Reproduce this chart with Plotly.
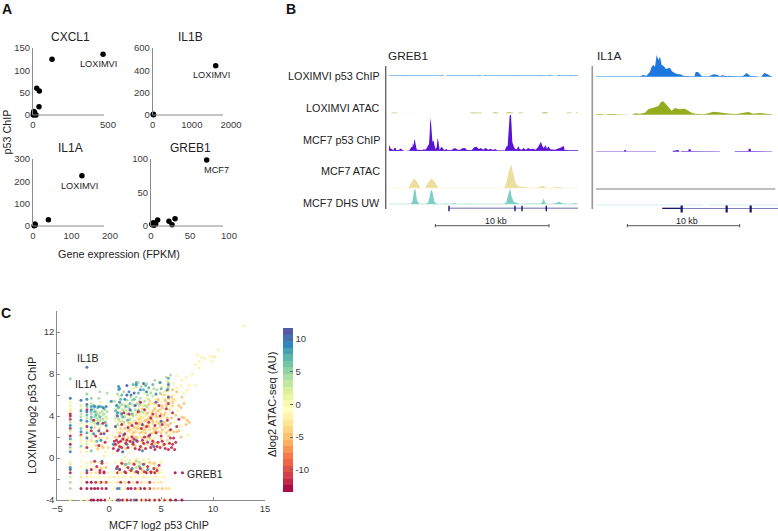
import plotly.graph_objects as go
from plotly.colors import sample_colorscale

W, H = 778, 531
def px(v): return v / W
def py(v): return 1 - v / H

# ---------- Panel A data ----------
cxcl1_x = [467, 127, 25, 42, 40, 5, 8, 12, 3, 20, 2, 10]
cxcl1_y = [136, 125, 60, 54, 18.6, 8, 3, 1, 5, 0, 0, 6]
il1b_x = [1609, 15, 20]
il1b_y = [441, 6, 3]
il1a_x = [127, 40, 5, 4, 6, 3]
il1a_y = [225, 28, 9, 3, 5, 1]
greb1_x = [71.4, 30.8, 23, 27, 8.5, 3, 2, 5, 4, 6, 1]
greb1_y = [98.5, 11, 7, 2, 9, 5, 2, 4, 1, 3, 3]

# ---------- Panel B data: (position, signal); None marks a gap ----------
G_LOX_CHIP = [(0,0),(40,0),(43,3),(46,0),(158,0),(161,3),(164,0),(166,None),(172,0),(268,0),(270,3),(272,None),(284,0),(288,3),(291,0),(388,0),(391,3),(394,0),(452,0),(456,3),(460,0),(477,0),(481,3),(483,None),(503,0),(508,3),(512,0),(540,0),(545,3),(550,0),(568,0)]
G_LOX_ATAC = [(8,0),(25,1),(None,None),(243,0),(250,2),(262,1),(278,0),(None,None),(311,0),(320,3),(328,0),(None,None),(351,0),(360,4),(373,0),(None,None),(388,0),(395,1),(403,0),(None,None),(458,0),(468,4),(478,0),(None,None),(533,0),(540,1),(548,0),(None,None),(561,0),(568,1)]
G_MCF_CHIP = [(0,16),(3,12),(5,5),(8,6),(10,3),(14,3),(16,8),(20,8),(22,2),(30,2),(33,6),(37,6),(40,1),(44,0),(None,None),(61,1),(64,8),(66,7),(68,12),(70,10),(72,22),(74,15),(76,35),(78,30),(80,14),(82,8),(84,3),(90,2),(100,2),(104,4),(108,3),(112,6),(116,14),(120,20),(122,50),(124,98),(126,85),(128,50),(130,30),(132,25),(134,32),(136,18),(138,8),(140,4),(143,10),(146,38),(148,30),(150,8),(152,2),(156,10),(160,10),(163,4),(168,2),(172,6),(176,1),(186,0),(192,6),(200,7),(206,3),(214,3),(220,7),(228,8),(234,2),(248,1),(256,10),(262,12),(270,5),(276,8),(282,3),(290,8),(298,3),(304,6),(312,2),(318,5),(324,2),(None,None),(348,2),(352,12),(356,14),(358,40),(360,90),(362,104),(364,108),(366,108),(368,70),(370,25),(374,14),(378,6),(384,4),(388,14),(392,5),(398,3),(404,8),(410,3),(418,8),(424,4),(432,6),(440,3),(448,12),(452,18),(456,27),(460,14),(464,8),(470,16),(474,5),(478,13),(484,4),(498,3),(510,6),(518,10),(524,15),(527,2),(540,0),(568,0)]
G_MCF_ATAC = [(0,0),(58,0),(64,12),(76,30),(84,20),(95,0),(108,0),(118,18),(128,30),(138,18),(148,0),(345,0),(352,15),(358,45),(366,72),(372,50),(380,15),(388,6),(400,4),(420,2),(440,0),(452,4),(461,8),(472,2),(490,1),(503,5),(518,2),(530,0),(568,0)]
G_MCF_DHS = [(0,0),(64,0),(70,8),(76,44),(79,46),(84,12),(90,2),(110,0),(118,6),(126,43),(130,40),(136,8),(144,1),(165,0),(170,3),(176,0),(200,3),(206,0),(240,2),(248,1),(258,0),(345,1),(352,6),(358,30),(363,48),(368,22),(375,7),(385,4),(392,0),(410,2),(440,3),(455,2),(460,6),(464,18),(468,6),(472,0),(495,2),(505,7),(511,8),(520,3),(535,1),(552,2),(558,4),(564,1),(568,0)]

I_LOX_CHIP = [(0,0),(24,0),(30,1),(36,0),(55,0),(62,2),(70,0),(132,0),(140,6),(152,4),(162,16),(167,31),(172,36),(177,31),(182,66),(187,51),(192,61),(197,36),(202,34),(210,24),(217,26),(222,28),(227,18),(237,11),(247,8),(252,8),(262,4),(272,2),(285,1),(295,1),(299,15),(306,15),(314,5),(320,0),(340,1),(346,6),(355,8),(365,6),(372,1),(377,5),(387,4),(392,2),(398,4),(407,2),(430,0),(442,4),(452,12),(462,4),(484,1),(None,None),(495,0),(500,6),(505,12),(515,8),(526,1),(528,0)]
I_LOX_ATAC = [(0,0),(8,2),(20,1),(None,None),(32,0),(45,2),(62,1),(None,None),(110,0),(117,4),(132,3),(147,6),(157,16),(167,18),(177,22),(187,26),(195,38),(202,40),(210,30),(220,20),(227,12),(237,20),(247,18),(252,16),(267,18),(277,12),(287,6),(297,3),(312,1),(322,1),(337,4),(352,9),(367,7),(382,5),(402,3),(422,2),(442,6),(457,8),(472,3),(492,5),(512,3),(528,0)]
I_MCF_CHIP = [(0,0),(84,0),(85,6),(90,6),(91,0),(100,0),(101,2),(128,2),(129,0),(180,0),(None,None),(230,0),(232,4),(248,6),(250,0),(None,None),(255,0),(256,2),(277,2),(278,8),(284,8),(285,2),(372,0),(None,None),(416,0),(418,2),(446,2),(457,3),(458,10),(464,10),(465,3),(502,2),(503,0),(528,0)]
I_MCF_ATAC = [(0,0),(538,0)]
I_MCF_DHS = [(0,0),(320,0),(None,None),(340,0),(546,0)]

# gene models: line extents and exon positions on the same coordinates
greb1_gene = [180, 568]
greb1_exons = [180, 378, 399, 472]
il1a_gene = [199, 546]
il1a_utr = [199, 257]
il1a_exons = [257, 392, 464]
scale_10kb_greb1 = [139, 480]
scale_10kb_il1a = [94, 431]

track_names = ["LOXIMVI p53 ChIP", "LOXIMVI ATAC", "MCF7 p53 ChIP", "MCF7 ATAC", "MCF7 DHS UW"]

# ---------- Panel C data ----------
col_a = [(5.7,10),(5.3,0),(5.0,1),(4.7,-2),(4.5,-3),(4.2,-12),(4.0,-12),(3.7,-11),(3.4,3),(3.1,9),(2.8,-12),(2.6,2),(2.3,-1),(2.1,-12),(1.8,8),(1.6,0),(1.3,-12),(1.0,5),(0.8,1),(0.6,9),(-0.3,0),(-0.6,-3),(-0.9,9),(-1.1,10),(-1.4,-12),(-1.8,2),(-2.3,4),(-2.9,4),(-4,1),(7.55,5)]
col_b = [(5.5,10),(5.0,2),(4.7,1),(4.5,8),(4.2,3),(3.9,4),(3.6,9),(3.3,1),(3.1,-1),(2.8,6),(2.5,9),(2.2,-11),(2.0,1),(1.7,-2),(1.4,0),(1.1,6),(0.9,-1),(0.6,-2),(-0.3,-1),(-0.8,0),(-1.4,-2),(-1.8,-3),(-2.3,-1),(-2.9,-13),(-4,-1)]
col_c = [(8.65,10),(6.1,5),(5.6,9),(5.1,11),(4.9,6),(4.6,-12),(4.4,10),(4.1,7),(3.8,3),(3.5,9),(3.2,-1),(3.0,-12),(2.7,1),(2.4,8),(2.1,-2),(1.9,10),(1.6,-3),(1.3,2),(1.0,-12),(0.6,1),(-0.5,-2),(-0.9,0),(-1.2,10),(-1.4,-12),(-1.8,-3),(-2.3,-13),(-2.9,-13),(-4,-2)]
col_d = [(5.7,5),(5.2,3),(4.9,8),(4.6,10),(4.4,6),(4.2,4),(3.9,7),(3.7,5),(3.4,3),(3.2,-1),(2.9,9),(2.6,-12),(2.3,0),(2.0,1),(1.7,-3),(1.4,-1),(1.1,-1),(0.7,6),(-0.4,-4),(-0.8,-1),(-1.1,-12),(-1.4,-3),(-1.8,0),(-2.3,-13),(-2.9,-13),(-4,-13)]
col_xs = [-3.75, -2.72, -2.15, -1.73]

row_m4 = [(-1.5,-13),(-1.1,-13),(-0.8,-13),(-0.4,-13),(0.8,-13),(1.0,-12),(1.3,-13),(1.7,-13),(2.1,-12),(2.6,-13),(3.1,-13),(3.5,-12),(3.9,-13),(4.4,-13),(4.8,-13),(5.3,-12),(5.9,-13),(6.4,-13),(7.0,-13),(-0.2,-2),(0.1,-1),(0.5,-2),(1.5,-3),(2.3,-2),(2.9,-1),(3.3,-3),(4.1,-2),(4.6,-1),(5.1,-2),(5.6,-3),(0.9,10),(2.4,10)]
row_m29 = [(-1.4,-13),(-1.1,-13),(-0.7,-12),(-0.3,-13),(0.8,10),(1.0,9),(1.2,-1),(1.5,-2),(1.8,-13),(2.1,-13),(2.5,-12),(3.0,-13),(3.4,-13),(3.9,-12),(4.3,-5),(4.7,-4),(5.1,-5),(5.5,-4),(5.8,-3),(0.5,-2),(2.8,-3),(3.7,-2)]
row_m23 = [(-1.3,-12),(-0.8,-13),(-0.3,-12),(-1.0,-3),(-0.5,-4),(0.1,-2),(0.8,-3),(1.1,-12),(1.5,-4),(1.9,-13),(2.3,-3),(2.7,-12),(3.1,-4),(3.5,-2),(3.9,-12),(4.3,-3),(4.7,-2),(5.0,-3),(0.5,-1)]
row_m18 = [(-1.3,-1),(-0.9,-2),(-0.5,-1),(0,-2),(0.5,-3),(0.9,0),(1.3,-2),(1.7,-1),(2.1,-3),(2.5,-2),(2.9,-1),(3.3,-3),(3.7,-2),(4.1,-1),(4.5,-2),(4.9,-1),(5.2,-2)]
row_m14 = [(-1.3,-3),(-0.9,-12),(-0.5,-13),(-0.1,-2),(0.4,-1),(0.8,-12),(1.2,-3),(1.6,-12),(2.0,-2),(2.4,-4),(2.8,-12),(3.2,-3),(3.6,-13),(4.0,-12),(4.4,-13),(4.8,-2),(5.1,-1),(1.0,-2),(2.2,-1),(3.0,-1),(3.8,-2),(4.6,-3),(6.35,-13),(7.05,-13)]
row_ys = [-4, -2.9, -2.3, -1.8, -1.4]

cream_pts = [(13.0,12.6),(10.5,10.3),(10.2,9.7),(10.0,9.6),(9.9,9.2),(9.7,9.7),(8.9,9.6),(8.5,9.8),(8.7,9.2),(8.3,8.9),(9.2,9.5),(8.6,8.6),(8.0,8.0),(7.4,7.7),(7.0,7.4),(6.5,7.8),(6.9,6.9),(7.5,6.5),(7.7,6.9),(6.5,6.7),(6.2,7.1),(7.2,6.2),(8.3,6.9),(5.8,6.4),(5.6,6.0),(6.2,6.0),(5.9,5.5),(5.2,5.7),(5.0,5.3),(4.6,5.0),(4.3,4.8),(4.0,4.3),(3.8,4.7),(3.5,4.0),(3.2,3.7),(2.9,3.4),(2.6,3.0),(2.3,2.7),(2.0,2.4),(1.7,2.1),(4.8,4.4),(4.4,3.9),(3.9,3.5),(3.6,3.2),(3.2,2.9),(2.8,2.5),(2.4,2.2),(5.3,4.6),(5.6,4.9),(4.9,3.7),(4.5,3.3),(4.1,2.9),(3.7,2.6),(3.3,2.3),(2.9,2.1),(5.8,4.2),(5.2,3.9),(0.7,2.7),(1.0,3.1),(1.3,2.6),(1.6,3.2),(2.0,3.0),(2.3,3.5),(2.7,3.8),(3.0,4.2),(3.4,4.5),(1.2,3.8),(1.5,4.1),(1.9,3.8),(0.6,3.5),(0.8,1.9),(1.4,1.2),(2.2,1.0),(3.1,1.5),(3.8,1.2),(4.3,1.9),(4.8,1.3),(5.5,1.4),(5.9,2.3),(5.2,2.6),(6.3,3.4),(6.6,4.5),(6.0,4.9),(6.4,5.5),(4.6,2.2),(0.3,2.2),(-0.3,2.9),(-0.7,1.9),(-1.2,2.5),(-1.5,1.6),(-0.9,3.4),(-0.4,0.6),(-1.1,0.7),(0.3,0.5),(1.2,0.5),(2.0,0.5),(1.5,-0.3),(2.0,-0.4),(2.5,-0.2),(3.0,-0.5),(3.5,-0.4),(4.0,-0.6),(4.5,-0.4),(1.1,-0.3),(1.6,-0.8),(2.2,-0.9),(2.8,-0.7),(3.3,-0.9),(3.9,-1.0),(4.4,-0.8),(4.9,-1.1),(-1.0,-0.4),(-0.6,-0.9),(-0.2,-0.5),(0.6,-0.4),(0.9,-1.3),(2.4,-1.2),(3.6,-1.2),(5.0,-0.4),(-1.3,-1.0),(7.6,2.2),(6.0,2.7),(6.8,3.1),(3.6,5.7),(4.4,5.6),(5.3,6.3)]
cream_dense = [(0.9,2.4),(1.1,2.8),(1.4,2.0),(1.8,2.6),(2.1,2.1),(2.5,2.5),(2.9,2.8),(3.2,2.5),(3.5,2.9),(3.9,2.7),(4.2,2.4),(4.6,2.8),(5.0,2.4),(5.4,2.9),(5.7,2.6),(1.2,3.5),(1.7,3.6),(2.1,3.3),(2.5,3.5),(2.8,3.1),(3.1,3.4),(3.4,3.5),(3.8,3.2),(4.2,3.3),(4.6,3.5),(5.1,3.5),(5.5,3.2),(2.6,4.1),(3.1,3.9),(3.6,4.2),(4.1,4.0),(4.5,4.3),(4.9,4.6),(5.4,4.3),(5.8,4.6),(6.1,5.0),(3.3,5.0),(3.9,5.4),(4.3,5.2),(4.7,5.4),(5.1,5.0),(5.5,5.3),(6.2,5.6),(5.3,6.0),(0.8,1.3),(1.5,1.6),(2.1,1.4),(2.7,1.9),(3.1,1.0),(3.6,1.7),(4.1,1.7),(4.5,1.4),(5.0,1.8),(5.6,1.7),(-0.5,2.4),(-1.0,1.9),(-1.4,2.9),(-0.2,1.9),(-0.9,2.8),(-0.3,3.3),(-1.3,1.2),(-0.7,1.2),(-0.1,1.0)]
orange_pts = [(5.0,6.1),(5.4,5.5),(5.7,5.7),(6.1,5.3),(5.5,5.0),(5.1,4.8),(4.7,4.5),(4.2,4.5),(3.9,3.9),(3.5,3.6),(3.1,3.2),(2.7,2.8),(2.3,2.4),(4.6,3.9),(4.2,3.5),(3.8,3.0),(3.4,2.7),(3.0,2.4),(2.6,2.0),(5.0,4.2),(5.3,3.4),(4.9,3.0),(4.4,2.6),(4.0,2.3),(3.6,2.0),(5.7,3.1),(5.5,2.4),(6.2,2.5),(6.9,2.0),(7.2,3.8),(7.5,3.6),(7.7,3.4),(7.0,3.9),(7.4,3.2),(6.7,5.0),(7.0,5.8),(6.5,6.3),(6.1,6.5),(5.7,6.8),(2.2,1.7),(1.8,1.9),(1.1,2.4),(1.5,2.8),(1.9,3.3),(3.2,1.9),(4.3,1.4),(3.4,1.3),(2.5,1.2),(1.6,0.9),(5.2,1.2),(0.8,-0.9),(1.4,-0.6),(1.9,-1.1),(2.3,-0.5),(2.9,-0.4),(3.4,-0.6),(3.9,-0.4),(4.3,-0.5),(4.6,-1.0),(4.2,-1.3),(3.2,-1.2),(2.6,-0.9),(-0.3,-0.9),(-0.8,-1.0),(-1.1,0.9),(-0.6,1.0),(0.5,1.2),(4.7,5.6),(3.8,5.1),(3.2,4.7)]
orange_dense = [(2.4,2.9),(2.8,3.3),(3.3,3.1),(3.7,3.7),(4.1,3.7),(4.5,4.1),(4.8,3.3),(5.3,4.1),(5.6,3.8),(6.0,3.8),(4.3,2.8),(4.7,2.5),(3.5,2.4),(3.9,1.9),(5.1,2.7),(5.7,2.1),(6.5,2.5),(6.0,5.8),(5.5,6.4),(4.4,4.7),(3.7,4.3),(2.9,3.7),(2.0,2.7),(1.4,1.8),(0.6,2.0),(6.4,4.1),(6.9,4.8),(7.2,5.2),(5.9,3.3),(6.7,2.6)]
lime_pts = [(-0.8,5.3),(-0.4,4.9),(0.1,5.3),(-1.3,5.0),(0.9,5.9),(2.2,5.1),(2.9,4.7),(3.3,5.1),(3.7,4.8),(4.1,5.2),(4.5,6.0),(5.1,6.8),(5.6,7.3),(4.8,7.2),(4.0,6.3),(1.4,5.2),(1.7,4.5),(2.4,4.3),(2.9,4.0),(3.3,3.9),(1.0,4.4),(0.7,4.7),(-0.2,3.7),(-0.7,3.9),(-1.2,3.4),(0.6,2.9),(1.3,3.3),(2.0,-0.2),(2.7,-0.1),(3.3,-0.2),(3.8,-0.1),(1.5,0.1),(-0.5,0.2),(1.2,-0.2),(2.3,6.6),(3.4,6.2)]
green_pts = [(-1.5,4.7),(-1.2,4.3),(-1.4,3.9),(-1.0,4.1),(-0.7,4.4),(-1.2,3.8),(-0.9,3.6),(-0.5,4.2),(-1.5,3.6),(-1.1,3.2),(-0.6,3.7),(-0.2,4.4),(0.7,4.1),(0.9,3.7),(1.1,4.3),(1.3,4.6),(0.8,5.0),(1.5,3.9),(1.7,4.2),(1.9,4.8),(2.1,4.5),(2.3,4.0),(2.5,4.6),(2.7,5.2),(2.9,5.0),(3.1,4.4),(3.4,5.4),(3.6,4.9),(2.2,5.5),(2.6,5.8),(3.0,5.7),(4.0,6.2),(4.3,6.6),(4.6,6.5),(5.5,7.7),(5.9,7.9),(5.7,7.2),(3.7,6.0),(1.7,5.5),(1.2,5.1),(0.8,3.2),(1.4,3.4),(2.0,3.7),(0.8,6.1),(1.4,6.3),(2.6,6.8),(3.6,7.1),(4.4,7.4),(5.7,6.6),(1.9,-0.5),(2.6,-0.3),(3.2,-0.6),(-1.0,5.7),(-0.2,6.2),(3.1,6.8),(2.8,7.2),(4.9,6.2),(0.5,5.4),(-0.9,6.3)]
green_dense = [(-1.3,4.5),(-0.9,4.3),(-0.6,4.1),(-0.3,3.9),(-1.1,3.6),(-0.8,3.2),(-1.4,3.3),(-0.4,4.6),(0.6,3.8),(1.0,3.5),(1.2,4.0),(1.6,4.6),(1.8,5.0),(2.0,4.1),(2.4,5.0),(2.7,4.3),(3.0,5.1),(3.3,4.3),(3.5,5.0),(0.7,4.6),(1.0,4.9),(1.5,5.0),(2.1,5.8),(2.9,5.4),(3.8,5.6),(4.2,5.9)]
teal_pts = [(-1.4,4.4),(-1.1,4.8),(-0.8,4.9),(-0.5,4.7),(-1.3,4.1),(-0.9,3.9),(0.6,4.5),(0.9,4.8),(1.1,5.6),(1.6,4.9),(2.0,5.2),(2.4,5.6),(2.8,6.2),(3.3,6.5),(3.8,6.7),(4.2,7.0),(5.0,6.6),(5.7,7.6),(0.9,6.5),(1.2,6.0),(2.3,7.0),(2.6,7.2),(3.5,6.9),(-1.5,5.0),(-0.4,3.4),(1.3,3.9),(1.8,3.6),(2.2,4.2),(2.8,4.5),(1.6,-0.6),(2.9,-0.8),(-1.2,1.6)]
blue_pts = [(-1.4,4.9),(-1.0,4.9),(-0.6,4.8),(-0.3,4.9),(0.2,5.4),(0.7,5.0),(1.0,5.3),(1.0,6.6),(0.9,6.8),(1.5,5.6),(1.9,6.3),(2.1,6.0),(2.6,7.0),(3.0,6.5),(3.6,6.3),(4.5,6.1),(4.9,7.2),(5.7,7.0),(5.6,6.5),(0.8,4.3),(1.2,4.2),(-1.5,2.3),(-0.8,1.7),(-0.3,3.1),(0.4,1.3),(1.7,1.3),(2.6,1.7),(3.2,0.7),(1.0,-1.1),(2.2,-1.0),(3.7,-1.1)]
purple_pts = [(-1.1,3.3),(-0.5,2.3),(0.8,4.0),(1.4,2.2),(1.7,6.0),(1.7,6.9),(2.4,6.2),(3.3,7.1),(2.5,5.0),(3.2,3.2),(3.8,2.1),(4.5,5.3),(4.3,1.1),(5.0,3.5),(1.3,0.6),(2.3,1.5),(0.9,0.8),(0.7,-1.0),(2.6,-1.3),(3.3,-0.6),(-0.7,-0.3),(-1.0,2.6),(0.6,3.0),(5.7,5.8),(2.0,4.6)]
red_pts = [(0.5,1.6),(0.7,1.7),(0.9,1.5),(1.1,1.6),(1.3,1.8),(1.6,1.4),(1.8,1.0),(2.0,1.6),(2.3,1.3),(2.5,0.9),(2.7,1.6),(3.0,1.1),(3.2,1.7),(3.5,0.9),(3.7,1.5),(4.0,1.0),(4.2,1.6),(4.4,0.8),(4.7,1.5),(4.9,1.0),(5.1,1.6),(5.4,0.9),(5.7,0.8),(6.0,1.0),(6.3,0.8),(6.4,1.5),(5.9,1.9),(1.0,2.1),(1.5,2.3),(0.4,0.9),(0.8,0.7),(1.2,1.0),(2.9,0.8),(3.4,2.0),(3.9,2.2),(4.5,2.4),(5.0,2.1),(6.2,1.9),(2.2,2.0),(1.2,3.2),(1.8,2.9),(2.6,3.3),(3.1,2.8),(3.8,3.4),(4.4,3.1),(5.1,3.2),(5.6,3.6),(5.9,2.7),(6.5,3.0),(1.9,4.2),(2.8,4.4),(3.4,4.6),(4.2,4.2),(4.9,4.0),(5.5,4.7),(5.7,5.2),(4.8,5.0),(6.1,4.3),(6.7,3.7),(3.0,5.3),(-0.8,2.3),(-0.4,1.5),(-1.0,1.2),(-0.2,2.6),(-0.6,3.3),(-1.3,2.1),(-1.5,3.6),(0.6,1.3),(1.0,1.1),(1.7,1.7),(2.4,1.8),(3.3,1.4),(4.1,1.3),(4.6,1.1),(5.3,1.3),(5.8,1.4),(6.1,1.3),(0.8,-0.8),(1.0,-1.1),(1.2,-0.5),(1.5,-1.3),(1.8,-0.9),(2.1,-1.2),(2.4,-0.6),(2.7,-1.3),(3.0,-1.0),(3.4,-1.3),(3.7,-0.8),(4.0,-1.3),(4.3,-1.0),(4.6,-1.2),(4.8,-0.7),(-1.2,-0.8),(-0.9,-1.2),(-0.5,-1.3),(-1.4,-0.3),(-0.7,-0.5),(3.6,3.0),(4.0,3.8),(2.2,3.1),(1.4,4.3)]

cloud_groups = [(cream_pts,-2),(cream_dense,-3.5),(lime_pts,1),(orange_pts,-5),(orange_dense,-4.5),(green_pts,4),(green_dense,3),(teal_pts,7),(blue_pts,9),(purple_pts,11),(red_pts,-12)]
rows_c = [row_m4, row_m29, row_m23, row_m18, row_m14]
cols_c = [col_a, col_b, col_c, col_d]

c_x, c_y, c_v = [], [], []
for pts, val in cloud_groups[:8]:
    for a, b in pts:
        c_x.append(a); c_y.append(b); c_v.append(val)
for yy, r in zip(row_ys, rows_c):
    for a, v in r:
        c_x.append(a); c_y.append(yy); c_v.append(v)
for xx, col in zip(col_xs, cols_c):
    for b, v in col:
        c_x.append(xx); c_y.append(b); c_v.append(v)
for pts, val in cloud_groups[8:]:
    for a, b in pts:
        c_x.append(a); c_y.append(b); c_v.append(val)

# ---------- Styling ----------
FONT = "Liberation Sans"
TICK = "#3a3a3a"
AXIS = "#8a8a8a"
fig = go.Figure()
layout = {}
shapes = []
annots = []

def text(x, y, s, size, color="#222222", anchor="center", angle=0, bold=False):
    annots.append(dict(x=px(x), y=py(y), xref="paper", yref="paper", text=("<b>%s</b>" % s if bold else s),
                       showarrow=False, xanchor=anchor, yanchor="middle", textangle=angle,
                       font=dict(size=size, color=color, family=FONT), borderpad=0, borderwidth=0))

def scatter_panel(n, xs, ys, x0, x1, line_end, y0, y1, xr, yr, xt, yt, title, cx):
    xa, ya = ("xaxis%d" % n), ("yaxis%d" % n)
    layout[xa] = dict(domain=[px(x0), px(x1)], range=xr, tickvals=xt, ticks="", showline=False, showgrid=False,
                      zeroline=False, anchor="y%d" % n, tickfont=dict(size=9.5, color=TICK, family=FONT), ticklabelstandoff=2)
    layout[ya] = dict(domain=[py(y1), py(y0)], range=yr, tickvals=yt, ticks="", showline=True, linecolor=AXIS, linewidth=1,
                      showgrid=False, zeroline=False, anchor="x%d" % n, tickfont=dict(size=9.5, color=TICK, family=FONT))
    shapes.append(dict(type="line", xref="paper", yref="paper", x0=px(x0), x1=px(line_end), y0=py(y1), y1=py(y1),
                       line=dict(color=AXIS, width=1)))
    fig.add_trace(go.Scatter(x=xs, y=ys, mode="markers", marker=dict(color="black", size=5.5), cliponaxis=False,
                             showlegend=False, xaxis="x%d" % n, yaxis="y%d" % n))
    text(cx, y0 - 11, title, 12, "#222222")

scatter_panel(1, cxcl1_x, cxcl1_y, 33, 108, 104, 48, 115, [0, 500], [0, 150], [0, 500], [0, 50, 100, 150], "CXCL1", 70)
scatter_panel(2, il1b_x, il1b_y, 152.7, 231, 223, 48, 115, [0, 2000], [0, 600], [0, 1000, 2000], [0, 200, 400, 600], "IL1B", 190)
scatter_panel(3, il1a_x, il1a_y, 33, 110, 104, 159, 226, [0, 200], [0, 300], [0, 100, 200], [0, 100, 200, 300], "IL1A", 70.5)
scatter_panel(4, greb1_x, greb1_y, 151, 229, 223, 159, 226, [0, 100], [0, 100], [0, 50, 100], [0, 50, 100], "GREB1", 190)

text(98.7, 64, "LOXIMVI", 9.2); text(211.7, 75, "LOXIMVI", 9.2); text(79, 185.7, "LOXIMVI", 9.2); text(217, 170, "MCF7", 9.2)
text(6.5, 132, "p53 ChIP", 10.8, angle=-90)
text(119, 254, "Gene expression (FPKM)", 10.8)
text(7, 8.5, "A", 14, "#111111", bold=True); text(291, 8.5, "B", 14, "#111111", bold=True); text(6, 313, "C", 14, "#111111", bold=True)

# Panel C
stepped = []
N_BANDS = 25
band_cols = sample_colorscale("Spectral", [(i + 0.5) / N_BANDS for i in range(N_BANDS)])
for i, col in enumerate(band_cols):
    stepped += [[i / N_BANDS, col], [(i + 1) / N_BANDS, col]]
fig.add_trace(go.Scatter(x=c_x, y=c_y, mode="markers", cliponaxis=False, showlegend=False, xaxis="x5", yaxis="y5",
    marker=dict(size=3, color=c_v, cmin=-13.4, cmax=11.7, colorscale=stepped, opacity=0.9, line=dict(width=0),
                colorbar=dict(lenmode="pixels", len=164, thicknessmode="pixels", thickness=10, x=px(283), xanchor="left",
                              y=py(328), yanchor="top", xpad=0, ypad=0, outlinewidth=0,
                              tickvals=[-10, -5, 0, 5, 10], ticktext=["-10", "-5", "0", "5", "10"], ticks="inside", ticklen=3,
                              tickcolor="#666666", tickfont=dict(size=9.5, color=TICK, family=FONT)))))
layout["xaxis5"] = dict(domain=[px(57.3), px(265)], range=[-5, 15], tickvals=[-5, 0, 5, 10, 15], ticks="inside", ticklen=3, tickcolor=AXIS,
                        showline=True, linecolor=AXIS, linewidth=1, showgrid=False, zeroline=False, anchor="y5", layer="below traces",
                        tickfont=dict(size=9.5, color=TICK, family=FONT))
layout["yaxis5"] = dict(domain=[py(500), py(311)], range=[-4, 14], tickvals=[-4, -2, 0, 2, 4, 6, 8, 10, 12, 14],
                        ticktext=["-4", "", "0", "", "4", "", "8", "", "12", ""], ticks="inside", ticklen=3, tickcolor=AXIS,
                        showline=True, linecolor=AXIS, linewidth=1, showgrid=False, zeroline=False, anchor="x5", layer="below traces",
                        tickfont=dict(size=9.5, color=TICK, family=FONT))
text(88, 358, "IL1B", 10.5); text(86, 384, "IL1A", 10.5); text(205, 474, "GREB1", 10.5)
text(159, 525, "MCF7 log2 p53 ChIP", 10.7); text(32, 415, "LOXIMVI log2 p53 ChIP", 11, angle=-90)
text(272, 405, "Δlog2 ATAC-seq (AU)", 11, angle=-90)

# Panel B
next_ax = [7]
def track(points, xname, baseline, fill, base, width=1.3):
    n = next_ax[0]; next_ax[0] += 1
    layout["yaxis%d" % n] = dict(domain=[py(baseline), py(baseline - 40)], range=[0, 120], visible=False, anchor=xname, fixedrange=True)
    xs = [p[0] for p in points]
    ys = [p[1] for p in points]
    zero = [None if v is None else 0 for v in ys]
    fig.add_trace(go.Scatter(x=xs, y=ys, mode="lines", line=dict(width=0, color=fill), fill="tozeroy", fillcolor=fill,
                             showlegend=False, xaxis=xname, yaxis="y%d" % n, connectgaps=False, cliponaxis=False))
    fig.add_trace(go.Scatter(x=xs, y=zero, mode="lines", line=dict(width=width, color=base), showlegend=False,
                             xaxis=xname, yaxis="y%d" % n, connectgaps=False, cliponaxis=False))
    return n

layout["xaxis6"] = dict(domain=[px(389), px(578.3)], range=[0, 568], visible=False, anchor="free", position=0)
layout["xaxis7"] = dict(domain=[px(596), px(778)], range=[0, 546], visible=False, anchor="free", position=0)

track(G_LOX_CHIP, "x6", 75.7, "#2f80dc", "#6aa8ea")
track(G_LOX_ATAC, "x6", 113.3, "#b9c45e", "#c4cc70", 1.6)
track(G_MCF_CHIP, "x6", 150.7, "#5a12d6", "#5a12d6")
track(G_MCF_ATAC, "x6", 188.3, "#ecdf9e", "#f3eec4")
track(G_MCF_DHS, "x6", 204.3, "#7ccfc3", "#8fd8cc")
greb_gene_ax = track([(a, 0) for a in greb1_gene], "x6", 208.5, "#ffffff", "#3d3d90")

track(I_LOX_CHIP, "x7", 77, "#1f78e0", "#6aa8ea")
track(I_LOX_ATAC, "x7", 114.7, "#93ad1e", "#b0c25a")
track(I_MCF_CHIP, "x7", 152, "#5a12d6", "#a888e0")
track(I_MCF_ATAC, "x7", 189.3, "#000000", "#000000")
track(I_MCF_DHS, "x7", 205.3, "#a8e0da", "#a8e0da")
il1a_gene_ax = track([(a, 0) for a in il1a_gene], "x7", 209, "#ffffff", "#5555a5")

fig.add_trace(go.Scatter(x=greb1_exons, y=[0] * 4, mode="markers", marker=dict(symbol="line-ns", size=4, line=dict(width=1.4, color="#16166e")),
                         showlegend=False, xaxis="x6", yaxis="y%d" % greb_gene_ax, cliponaxis=False))
fig.add_trace(go.Scatter(x=il1a_utr, y=[0, 0], mode="lines", line=dict(color="#16166e", width=2.6),
                         showlegend=False, xaxis="x7", yaxis="y%d" % il1a_gene_ax, cliponaxis=False))
fig.add_trace(go.Scatter(x=il1a_exons, y=[0] * 3, mode="markers", marker=dict(symbol="line-ns", size=5, line=dict(width=2.2, color="#16166e")),
                         showlegend=False, xaxis="x7", yaxis="y%d" % il1a_gene_ax, cliponaxis=False))

for xname, (a, b) in (("x6", scale_10kb_greb1), ("x7", scale_10kb_il1a)):
    shapes.append(dict(type="line", xref=xname, yref="paper", x0=a, x1=b, y0=py(225.7), y1=py(225.7), line=dict(color="#555555", width=1)))
    for e in (a, b):
        shapes.append(dict(type="line", xref=xname, yref="paper", x0=e, x1=e, y0=py(224), y1=py(227.4), line=dict(color="#555555", width=1)))
text(496, 221, "10 kb", 8.9); text(686.7, 221, "10 kb", 8.9)

shapes.append(dict(type="line", xref="paper", yref="paper", x0=px(385.7), x1=px(385.7), y0=py(66), y1=py(209), line=dict(color="#666666", width=1.4)))
shapes.append(dict(type="line", xref="paper", yref="paper", x0=px(592.3), x1=px(592.3), y0=py(66), y1=py(209), line=dict(color="#999999", width=1.6)))
for name, yy in zip(track_names, [76, 108, 140, 171, 203]):
    text(380, yy, name, 10.8, anchor="right")
text(388, 56, "GREB1", 11.8, anchor="left"); text(597, 56, "IL1A", 11.8, anchor="left")

fig.update_layout(width=W, height=H, margin=dict(l=0, r=0, t=0, b=0, autoexpand=False), paper_bgcolor="white", plot_bgcolor="rgba(0,0,0,0)",
                  showlegend=False, shapes=shapes, annotations=annots, font=dict(family=FONT), **layout)
fig.write_html("out.html", post_script="document.body.style.margin='0';", config={"displayModeBar": False})
